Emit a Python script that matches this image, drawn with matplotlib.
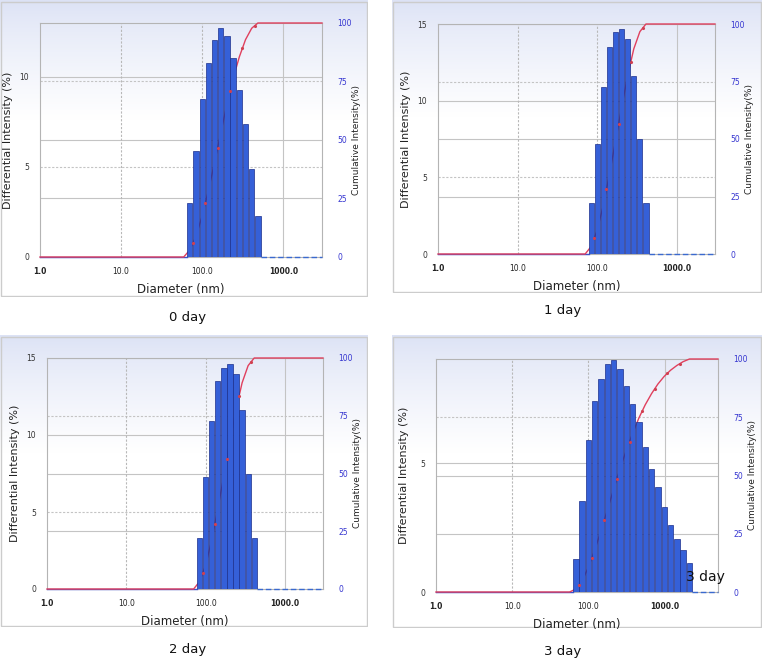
import numpy as np
from matplotlib import pyplot as plt
from matplotlib.patches import Rectangle

W, H = 763, 669

# bin centres (nm) and differential intensity (%)
d0 = [70.4, 83.9, 100.0, 119.2, 142.1, 169.4, 201.9, 240.7, 286.9, 342.0, 407.7, 486.0]
h0 = [3.0, 5.9, 8.8, 10.8, 12.05, 12.7, 12.3, 11.05, 9.3, 7.4, 4.9, 2.25]

d1 = [83.9, 100.0, 119.2, 142.1, 169.4, 201.9, 240.7, 286.9, 342.0, 407.7]
h1 = [3.35, 7.2, 10.9, 13.5, 14.45, 14.65, 14.0, 11.6, 7.5, 3.35]

d2 = [83.9, 100.0, 119.2, 142.1, 169.4, 201.9, 240.7, 286.9, 342.0, 407.7]
h2 = [3.3, 7.25, 10.9, 13.5, 14.37, 14.63, 13.98, 11.6, 7.5, 3.3]

d3 = [68.3, 82.6, 100.0, 121.0, 146.4, 177.2, 214.4, 259.4, 313.9, 379.8,
      459.5, 556.0, 672.8, 814.1, 985.0, 1192.0, 1442.0, 1745.0, 2112.0]
h3 = [1.27, 3.53, 5.91, 7.43, 8.27, 8.86, 9.03, 8.66, 8.01, 7.31,
      6.6, 5.65, 4.79, 4.09, 3.31, 2.62, 2.05, 1.65, 1.14]

xticks = [1, 10, 100, 1000]
xticklabels = ['1.0', '10.0', '100.0', '1000.0']
cum_ticks = [0, 25, 50, 75, 100]
captions = ['0 day', '1 day', '2 day', '3 day']

BAR = '#3560d8'
BAR_EDGE = '#1c2f8c'
RED = '#e0405e'
BLUE_TXT = '#3535d0'
GRID = '#c4c4c4'


def frac(x0, y0, x1, y1):
    # pixel box (top-left origin) -> figure rect
    return [x0 / W, 1 - y1 / H, (x1 - x0) / W, (y1 - y0) / H]


def panel(fig, box, axbox, d, h, ymax, yticks, xmax, dash5=True):
    # background with the light blue gradient
    bg = fig.add_axes(frac(*box), zorder=-1)
    t = np.linspace(0, 1, 200)[:, None]
    s = np.clip(t / 0.4, 0, 1) ** 0.8
    top = np.array([220, 226, 245]) / 255.0
    img = top[None, None, :] * (1 - s[..., None]) + np.ones(3)[None, None, :] * s[..., None]
    img = np.repeat(img, 2, axis=1)
    bg.imshow(img, extent=[0, 1, 0, 1], aspect='auto')
    bg.add_patch(Rectangle((0.003, 0.004), 0.994, 0.99, fill=False, ec='#cccccc', lw=1.0))
    bg.set_xlim(0, 1)
    bg.set_ylim(0, 1)
    bg.axis('off')

    ax = fig.add_axes(frac(*axbox))
    ax.set_facecolor('none')
    ax.set_xscale('log')
    ax.set_xlim(1, xmax)
    ax.set_ylim(0, ymax)

    d = np.array(d)
    h = np.array(h)
    r = d[1] / d[0]
    left = d / r ** 0.43
    right = d * r ** 0.43
    ax.bar(left, h, width=right - left, align='edge', color=BAR,
           edgecolor=BAR_EDGE, linewidth=0.5, zorder=3)

    # grid
    k = ymax / 100.0
    for v in [25, 50, 75]:
        ax.axhline(v * k, color=GRID, lw=0.8, ls=(0, (2, 1.5)) if v == 75 else '-', zorder=0)
    for v in yticks[1:]:
        ls = (0, (2, 1.5)) if (v == 5 and dash5) else '-'
        ax.axhline(v, color=GRID, lw=0.8, ls=ls, zorder=0)
    for v in [10, 100]:
        ax.axvline(v, color='#b8b8b8', lw=0.8, ls=(0, (2, 1.5)), zorder=0)
    ax.axvline(1000, color=GRID, lw=0.8, zorder=0)

    # baseline of the differential curve
    ax.plot([1, left[0]], [0, 0], color='#4050c8', lw=1.0, zorder=2, clip_on=False)
    ax.plot([right[-1], xmax], [0, 0], color='#3a6ad0', lw=1.0, ls=(0, (4, 2)),
            zorder=2, clip_on=False)

    # cumulative curve, behind the bars
    cum = np.cumsum(h) / h.sum() * 100
    cx = np.concatenate([[1, d[0] / r], d, [xmax]])
    cy = np.concatenate([[0, 0], cum, [100]]) * k
    ax.plot(cx, cy, color=RED, lw=1.0, zorder=2, clip_on=False)
    mx = np.sqrt(d[:-1] * d[1:])[::2]
    my = ((cum[:-1] + cum[1:]) / 2)[::2] * k
    ax.plot(mx, my, ls='none', marker='.', ms=2.5, color='#d04050', zorder=4)

    for sp in ax.spines.values():
        sp.set_color('#b4b4b4')
        sp.set_linewidth(0.8)
        sp.set_zorder(1)

    ax.set_xticks(xticks)
    ax.set_xticklabels(xticklabels)
    ax.xaxis.set_minor_locator(plt.NullLocator())
    ax.tick_params(axis='x', length=0, pad=7, labelsize=5.5, labelcolor='#222222')
    for lab in ax.get_xticklabels():
        if lab.get_text() in ('1.0', '1000.0'):
            lab.set_fontweight('bold')
    ax.set_yticks(yticks)
    ax.tick_params(axis='y', length=0, pad=8, labelsize=5.5, labelcolor='#333333')

    ax2 = ax.twinx()
    ax2.set_ylim(0, 100)
    ax2.set_yticks(cum_ticks)
    ax2.tick_params(axis='y', length=0, pad=11, labelsize=5.5, labelcolor=BLUE_TXT)
    for sp in ax2.spines.values():
        sp.set_visible(False)

    x0, y0, x1, y1 = axbox
    aw, ah = x1 - x0, y1 - y0
    ax.set_xlabel('Diameter (nm)', fontsize=8.5, color='#222222')
    ax.xaxis.set_label_coords(0.5, -26 / ah)
    ax.set_ylabel('Differential Intensity (%)', fontsize=8, color='#222222')
    ax.yaxis.set_label_coords(-27 / aw, 0.5)
    ax2.set_ylabel('Cumulative Intensity(%)', fontsize=6.5, color='#222222')
    ax2.yaxis.set_label_coords(1 + 30 / aw, 0.5)
    return ax


fig = plt.figure(figsize=(W / 100, H / 100), dpi=100)
fig.patch.set_facecolor('white')

panel(fig, (0, 0, 368, 297), (40, 23, 322, 257), d0, h0, 13, [0, 5, 10], 3000)
panel(fig, (392, 0, 762, 293), (438, 24, 715, 254), d1, h1, 15, [0, 5, 10, 15], 3000)
panel(fig, (0, 335, 368, 627), (47, 358, 323, 589), d2, h2, 15, [0, 5, 10, 15], 3000)
panel(fig, (392, 335, 762, 628), (436, 359, 718, 592), d3, h3, 9.05, [0, 5], 5000, dash5=False)

cap_pos = [(188, 318), (563, 310), (188, 650), (563, 652)]
for txt, (px, py) in zip(captions, cap_pos):
    fig.text(px / W, 1 - py / H, txt, ha='center', va='center', fontsize=9.5, color='#111111')
# stray label pasted inside the last panel
fig.text(686 / W, 1 - 577 / H, '3 day', ha='left', va='center', fontsize=10, color='#111111')

fig.savefig('out.png', dpi=100)
